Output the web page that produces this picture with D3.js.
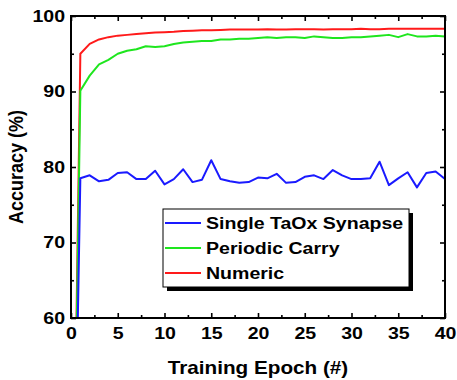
<!DOCTYPE html>
<html>
<head>
<meta charset="utf-8">
<script src="https://cdn.jsdelivr.net/npm/d3@7"></script>
<style>
  body { margin: 0; background: #fff; }
  text { font-family: "Liberation Sans", Arial, sans-serif; font-weight: bold; fill: #000; }
</style>
</head>
<body>
<div id="vis"></div>
<script>
const epochs = [0, 1, 2, 3, 4, 5, 6, 7, 8, 9, 10, 11, 12, 13, 14, 15, 16, 17, 18, 19, 20,
  21, 22, 23, 24, 25, 26, 27, 28, 29, 30, 31, 32, 33, 34, 35, 36, 37, 38, 39, 40];

const synapse = [10, 78.5, 78.9, 78.1, 78.3, 79.2, 79.3, 78.4, 78.4, 79.5, 77.7, 78.4, 79.7, 78.0,
  78.3, 80.9, 78.4, 78.1, 77.9, 78.0, 78.6, 78.5, 79.1, 77.9, 78.0, 78.7, 78.9, 78.4, 79.6, 78.9,
  78.4, 78.4, 78.5, 80.7, 77.6, 78.5, 79.3, 77.3, 79.2, 79.4, 78.4];

const periodic = [10, 90.1, 92.1, 93.6, 94.2, 95.0, 95.4, 95.6, 96.0, 95.9, 96.0, 96.3, 96.5, 96.6,
  96.7, 96.7, 96.9, 96.9, 97.0, 97.0, 97.1, 97.2, 97.1, 97.2, 97.2, 97.1, 97.3, 97.2, 97.1, 97.1,
  97.2, 97.2, 97.3, 97.4, 97.5, 97.2, 97.6, 97.3, 97.3, 97.4, 97.3];

const numeric = [10, 95.0, 96.3, 96.9, 97.2, 97.4, 97.5, 97.6, 97.7, 97.8, 97.85, 97.9, 98.0, 98.05,
  98.1, 98.1, 98.15, 98.2, 98.2, 98.2, 98.2, 98.25, 98.2, 98.2, 98.25, 98.25, 98.25, 98.2, 98.25, 98.25,
  98.25, 98.3, 98.25, 98.25, 98.3, 98.3, 98.3, 98.3, 98.3, 98.3, 98.3];

const xTicks = [0, 5, 10, 15, 20, 25, 30, 35, 40];
const yTicks = [60, 70, 80, 90, 100];

const series = [
  { name: "Single TaOx Synapse", values: synapse, color: "#1a1aff" },
  { name: "Periodic Carry", values: periodic, color: "#1ee61e" },
  { name: "Numeric", values: numeric, color: "#ff1a1a" }
];

const sx = 1.15; // the picture's text is a bit wider than tall

const margin = { top: 16, right: 12, bottom: 62, left: 71 },
      width = 457 - margin.left - margin.right,
      height = 380 - margin.top - margin.bottom;

const svg = d3.select("#vis")
  .append("svg")
  .attr("width", 457)
  .attr("height", 380);

const g = svg.append("g")
  .attr("transform", `translate(${margin.left},${margin.top})`);

const x = d3.scaleLinear().domain([0, 40]).range([0, width]);
const y = d3.scaleLinear().domain([60, 100]).range([height, 0]);

svg.append("defs").append("clipPath")
  .attr("id", "clip")
  .append("rect")
  .attr("width", width)
  .attr("height", height);

// data lines (legend order reversed so red sits below)
const line = d3.line()
  .x((d, i) => x(epochs[i]))
  .y(d => y(d));

g.append("g")
  .attr("clip-path", "url(#clip)")
  .selectAll("path")
  .data(series.slice().reverse())
  .join("path")
  .attr("fill", "none")
  .attr("stroke", d => d.color)
  .attr("stroke-width", 2)
  .attr("stroke-linejoin", "round")
  .attr("d", d => line(d.values));

// minor ticks
const minorX = d3.range(2.5, 40, 5);
const minorY = d3.range(65, 100, 10);

const styleAxis = sel => {
  sel.select(".domain").remove();
  sel.selectAll("line").attr("stroke", "#000").attr("stroke-width", 1.6);
};

g.append("g").attr("transform", `translate(0,${height})`)
  .call(d3.axisBottom(x).tickValues(minorX).tickSize(-3).tickFormat(""))
  .call(styleAxis);
g.append("g")
  .call(d3.axisTop(x).tickValues(minorX).tickSize(-3).tickFormat(""))
  .call(styleAxis);
g.append("g")
  .call(d3.axisLeft(y).tickValues(minorY).tickSize(-3).tickFormat(""))
  .call(styleAxis);
g.append("g").attr("transform", `translate(${width},0)`)
  .call(d3.axisRight(y).tickValues(minorY).tickSize(-3).tickFormat(""))
  .call(styleAxis);

// major ticks
const xAxis = g.append("g").attr("transform", `translate(0,${height})`)
  .call(d3.axisBottom(x).tickValues(xTicks).tickSize(-5).tickPadding(9))
  .call(styleAxis);
xAxis.selectAll("text")
  .style("font-size", "17px")
  .attr("transform", `scale(${sx},1)`);

const yAxis = g.append("g")
  .call(d3.axisLeft(y).tickValues(yTicks).tickSize(-5).tickPadding(6))
  .call(styleAxis);
yAxis.selectAll("text")
  .style("font-size", "17px")
  .attr("x", -6 / sx)
  .attr("transform", `scale(${sx},1)`);

g.append("g")
  .call(d3.axisTop(x).tickValues(xTicks).tickSize(-5).tickFormat(""))
  .call(styleAxis);
g.append("g").attr("transform", `translate(${width},0)`)
  .call(d3.axisRight(y).tickValues(yTicks).tickSize(-5).tickFormat(""))
  .call(styleAxis);

// frame
g.append("rect")
  .attr("width", width)
  .attr("height", height)
  .attr("fill", "none")
  .attr("stroke", "#000")
  .attr("stroke-width", 2);

// axis titles
svg.append("text")
  .attr("transform", `translate(${margin.left + width / 2},373.5) scale(${sx},1)`)
  .attr("text-anchor", "middle")
  .style("font-size", "18px")
  .text("Training Epoch (#)");

svg.append("text")
  .attr("transform", `translate(23,${margin.top + height / 2}) scale(${sx},1) rotate(-90)`)
  .attr("text-anchor", "middle")
  .style("font-size", "18px")
  .text("Accuracy (%)");

// legend
const lg = svg.append("g").attr("transform", "translate(163,209)");
const lw = 246, lh = 78;

lg.append("rect")
  .attr("x", 4).attr("y", 4)
  .attr("width", lw).attr("height", lh)
  .attr("fill", "#000");
lg.append("rect")
  .attr("width", lw).attr("height", lh)
  .attr("fill", "#fff")
  .attr("stroke", "#000")
  .attr("stroke-width", 1);

const rows = lg.selectAll("g.row")
  .data(series)
  .join("g")
  .attr("class", "row")
  .attr("transform", (d, i) => `translate(0,${14 + i * 25})`);

rows.append("line")
  .attr("x1", 2).attr("x2", 38)
  .attr("stroke", d => d.color)
  .attr("stroke-width", 2);

rows.append("text")
  .attr("transform", `translate(43,6) scale(${sx},1)`)
  .style("font-size", "17px")
  .text(d => d.name);
</script>
</body>
</html>
